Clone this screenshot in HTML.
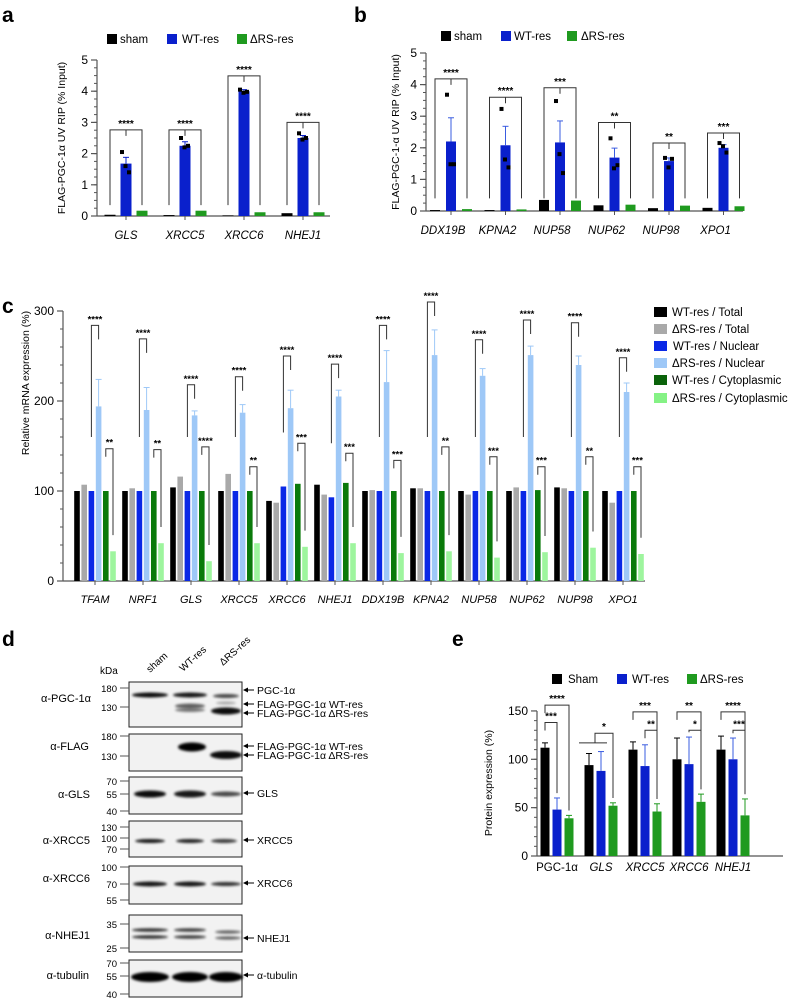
<!DOCTYPE html>
<html><head><meta charset="utf-8"><style>
body{margin:0;background:#fff}
svg{display:block;font-family:"Liberation Sans",sans-serif}
</style></head><body>
<svg id="fig" width="800" height="999" viewBox="0 0 800 999" xmlns="http://www.w3.org/2000/svg">
<defs>
<filter id="blur" x="-20%" y="-100%" width="140%" height="300%"><feGaussianBlur stdDeviation="1.4"/></filter>
</defs>
<g font-weight="bold" font-size="21" fill="#000">
<text x="2" y="22">a</text>
<text x="354" y="22">b</text>
<text x="2" y="313">c</text>
<text x="2" y="646">d</text>
<text x="452" y="646">e</text>
</g>

<g font-size="10">
<text x="100" y="674">kDa</text>
<text transform="translate(150,673) rotate(-42)" font-size="10">sham</text>
<text transform="translate(183,672) rotate(-42)" font-size="10">WT-res</text>
<text transform="translate(223,666) rotate(-42)" font-size="10">ΔRS-res</text>
<g font-size="11" text-anchor="end">
<text x="91" y="702">α-PGC-1α</text>
<text x="89" y="750">α-FLAG</text>
<text x="90" y="798">α-GLS</text>
<text x="90" y="844">α-XRCC5</text>
<text x="90" y="882">α-XRCC6</text>
<text x="90" y="939">α-NHEJ1</text>
<text x="89" y="979">α-tubulin</text>
</g>
<g id="blot"></g>
</g>

<g font-size="11.5">
<rect x="654" y="307" width="13" height="10" fill="#000"/><text x="672" y="316">WT-res / Total</text>
<rect x="654" y="324" width="13" height="10" fill="#a9a9a9"/><text x="672" y="333">ΔRS-res / Total</text>
<rect x="654" y="341" width="13" height="10" fill="#0a28e6"/><text x="673" y="350">WT-res / Nuclear</text>
<rect x="654" y="358" width="13" height="10" fill="#9ec8f7"/><text x="672" y="367">ΔRS-res / Nuclear</text>
<rect x="654" y="375" width="13" height="10" fill="#0a620a"/><text x="672" y="384">WT-res / Cytoplasmic</text>
<rect x="654" y="393" width="13" height="10" fill="#85f285"/><text x="672" y="402">ΔRS-res / Cytoplasmic</text>
</g>
<g id="charts"></g>
</svg>
<script>
// ===== Panel a data =====
const aGenes=['GLS','XRCC5','XRCC6','NHEJ1'];
const aSham=[0.04,0.03,0.02,0.09];
const aWT=[1.68,2.25,4.0,2.5];
const aDRS=[0.17,0.17,0.12,0.12];
const aErrWT=[0.2,0.13,0.05,0.08];
const aPtsWT=[[2.05,1.6,1.4],[2.5,2.2,2.25],[4.05,3.95,3.98],[2.65,2.45,2.5]];
const aSigY=[2.76,2.76,4.49,3.0];
const aSig=['****','****','****','****'];
const aTicks=[0,1,2,3,4,5];
// ===== Panel b data =====
const bGenes=['DDX19B','KPNA2','NUP58','NUP62','NUP98','XPO1'];
const bSham=[0.03,0.03,0.35,0.18,0.09,0.1];
const bWT=[2.2,2.08,2.17,1.69,1.58,2.0];
const bDRS=[0.06,0.05,0.33,0.2,0.17,0.15];
const bErrWT=[0.75,0.6,0.68,0.3,0.1,0.1];
const bPtsWT=[[3.68,1.48,1.48],[3.23,1.63,1.38],[3.48,1.8,1.2],[2.3,1.35,1.45],[1.68,1.38,1.65],[2.15,2.05,1.85]];
const bSigY=[4.18,3.6,3.9,2.8,2.15,2.47];
const bSig=['****','****','***','**','**','***'];
const bTicks=[0,1,2,3,4,5];
// ===== Panel c data =====
const cGenes=['TFAM','NRF1','GLS','XRCC5','XRCC6','NHEJ1','DDX19B','KPNA2','NUP58','NUP62','NUP98','XPO1'];
const cWTTotal=[100,100,104,100,89,107,100,103,100,100,104,100];
const cDRSTotal=[107,103,116,119,87,96,101,103,96,104,103,87];
const cWTNuc=[100,100,100,100,105,93,100,100,100,100,100,100];
const cDRSNuc=[194,190,184,187,192,205,221,251,228,251,240,210];
const cWTCyto=[100,100,100,100,108,109,100,100,100,101,100,100];
const cDRSCyto=[33,42,22,42,38,42,31,33,26,32,37,30];
const cErrDRSNuc=[30,25,5,9,20,7,35,28,8,10,10,10];
const cSig1Y=[284,269,218,227,250,241,284,310,268,290,287,248];
const cSig1=['****','****','****','****','****','****','****','****','****','****','****','****'];
const cSig2Y=[147,146,149,127,153,142,134,149,138,127,138,127];
const cSig2=['**','**','****','**','***','***','***','**','***','***','**','***'];
const cTicks=[0,100,200,300];
// ===== Panel e data =====
const eGenes=['PGC-1α','GLS','XRCC5','XRCC6','NHEJ1'];
const eSham=[112,94,110,100,110];
const eWT=[48,88,93,95,100];
const eDRS=[39,52,46,56,42];
const eErrSham=[5,12,8,22,14];
const eErrWT=[12,20,22,28,22];
const eErrDRS=[3,3,8,8,17];
const eTicks=[0,50,100,150];
// brackets: [group, fromBar, toBar, yValue, label]
const eBrackets=[[0,0,2,156,'****'],[0,0,1,138,'***'],[1,0.5,2,127,'*'],[2,0,2,149,'***'],[2,1,2,130,'**'],[3,0,2,149,'**'],[3,1,2,130,'*'],[4,0,2,149,'****'],[4,1,2,130,'***']];

const NS='http://www.w3.org/2000/svg';
const root=document.getElementById('charts');
function mk(tag,attrs,parent){const e=document.createElementNS(NS,tag);for(const k in attrs)e.setAttribute(k,attrs[k]);(parent||root).appendChild(e);return e;}
function txt(x,y,s,attrs,parent){const t=mk('text',Object.assign({x:x,y:y},attrs||{}),parent);t.textContent=s;return t;}

function axis(g,x0,xEnd,yf,ticks,minorStep,fs){
  const ymin=yf(ticks[0]),ymax=yf(ticks[ticks.length-1]);
  mk('line',{x1:x0,y1:ymin,x2:x0,y2:ymax,stroke:'#555','stroke-width':1.2},g);
  mk('line',{x1:x0,y1:ymin,x2:xEnd,y2:ymin,stroke:'#555','stroke-width':1.2},g);
  for(let v=ticks[0];v<=ticks[ticks.length-1]+1e-9;v+=minorStep){
    mk('line',{x1:x0-3,y1:yf(v),x2:x0,y2:yf(v),stroke:'#555','stroke-width':1},g);
  }
  ticks.forEach(v=>{
    mk('line',{x1:x0-6,y1:yf(v),x2:x0,y2:yf(v),stroke:'#555','stroke-width':1.2},g);
    const t=txt(x0-9,yf(v)+4,String(v),{'font-size':fs,'text-anchor':'end'},g);
    
    
  });
}
function bar(g,cx,w,yf,v,fill){
  const r=mk('rect',{x:cx-w/2,y:yf(v),width:w,height:yf(0)-yf(v),fill:fill},g);
  
  
  return r;
}
function err(g,cx,yf,v,e,col){
  mk('line',{x1:cx,y1:yf(v),x2:cx,y2:yf(v+e),stroke:col,'stroke-width':1},g);
  mk('line',{x1:cx-3,y1:yf(v+e),x2:cx+3,y2:yf(v+e),stroke:col,'stroke-width':1},g);
}
function bracket(g,x1,x2,yTop,y1Bot,y2Bot,label,fs){
  mk('polyline',{points:`${x1},${y1Bot} ${x1},${yTop} ${x2},${yTop} ${x2},${y2Bot}`,fill:'none',stroke:'#333','stroke-width':1},g);
  txt((x1+x2)/2,yTop-3,label,{'font-size':fs,'text-anchor':'middle','font-weight':'bold'},g);
}
function legend(g,items,y,fs){
  items.forEach(it=>{
    const r=mk('rect',{x:it[0],y:y-5,width:10,height:10,fill:it[2]},g);
    
    
    const t=txt(it[1],y+4,it[3],{'font-size':fs},g);
    
    
  });
}

// ===== Panel a =====
(function(){
  const g=mk('g',{});
  
  
  const yf=v=>216-v*31.2, xg=i=>126+i*59;
  axis(g,97,330,yf,aTicks,0.25,12);
  legend(g,[[107,120,'#000','sham'],[167,182,'#0a20cc','WT-res'],[237,250,'#1f9a1f','ΔRS-res']],39,11.5);
  aGenes.forEach((n,i)=>{
    const c=xg(i);
    bar(g,c-16,11,yf,aSham[i],'#000');
    bar(g,c,11,yf,aWT[i],'#0a20cc');
    err(g,c,yf,aWT[i],aErrWT[i],'#0a20cc');
    bar(g,c+16,11,yf,aDRS[i],'#1f9a1f');
    aPtsWT[i].forEach((p,k)=>mk('rect',{x:c-6+k*3.5,y:yf(p)-2,width:4,height:4,fill:'#000'},g));
    bracket(g,c-16,c+16,yf(aSigY[i]),yf(0.35),yf(0.35),aSig[i],10);
    mk('line',{x1:c,y1:yf(aSigY[i]),x2:c,y2:yf(aSigY[i])+6,stroke:'#333'},g);
    mk('line',{x1:c,y1:yf(0),x2:c,y2:yf(0)+4,stroke:'#555'},g);
    const t=txt(c,239,n,{'font-size':11.5,'font-style':'italic','text-anchor':'middle'},g);
    
    
  });
  const yl=txt(0,0,'FLAG-PGC-1α UV RIP (% Input)',{'font-size':10.5,'text-anchor':'middle',transform:'translate(65,138) rotate(-90)'},g);
  
  
})();

// ===== Panel b =====
(function(){
  const g=mk('g',{});
  
  
  const yf=v=>211-v*31.6, xg=i=>451+i*54.5;
  axis(g,426,743,yf,bTicks,0.25,12);
  legend(g,[[441,454,'#000','sham'],[501,514,'#0a20cc','WT-res'],[567,581,'#1f9a1f','ΔRS-res']],36,11.5);
  bGenes.forEach((n,i)=>{
    const c=xg(i);
    bar(g,c-16,10,yf,bSham[i],'#000');
    bar(g,c,10,yf,bWT[i],'#0a20cc');
    err(g,c,yf,bWT[i],bErrWT[i],'#3a5ce0');
    bar(g,c+16,10,yf,bDRS[i],'#1f9a1f');
    bPtsWT[i].forEach((p,k)=>mk('rect',{x:c-6+k*3.5,y:yf(p)-2,width:4,height:4,fill:'#000'},g));
    bracket(g,c-16,c+16,yf(bSigY[i]),yf(0.4),yf(0.4),bSig[i],10);
    mk('line',{x1:c,y1:yf(bSigY[i]),x2:c,y2:yf(bSigY[i])+6,stroke:'#333'},g);
    mk('line',{x1:c,y1:yf(0),x2:c,y2:yf(0)+4,stroke:'#555'},g);
    const t=txt(c-8,234,n,{'font-size':11.5,'font-style':'italic','text-anchor':'middle'},g);
    
    
  });
  const yl=txt(0,0,'FLAG-PGC-1-α UV RIP (% Input)',{'font-size':10.5,'text-anchor':'middle',transform:'translate(399,132) rotate(-90)'},g);
  
  
})();

// ===== Panel c =====
(function(){
  const g=mk('g',{});
  
  
  const yf=v=>581-v*0.9, xg=i=>77+i*48;
  axis(g,63,645,yf,cTicks,20,12);
  const series=[cWTTotal,cDRSTotal,cWTNuc,cDRSNuc,cWTCyto,cDRSCyto];
  const cols=['#000','#a9a9a9','#0a28e6','#9ec8f7','#0a7a0a','#9ef59e'];
  cGenes.forEach((n,i)=>{
    const b=xg(i);
    series.forEach((s,k)=>bar(g,b+k*7.2,5.6,yf,s[i],cols[k]));
    err(g,b+21.6,yf,cDRSNuc[i],cErrDRSNuc[i],'#9ec8f7');
    bracket(g,b+14.4,b+21.6,yf(cSig1Y[i]),yf(cWTNuc[i]+60),yf(cSig1Y[i])+14,cSig1[i],9.5);
    bracket(g,b+28.8,b+36,yf(cSig2Y[i]),yf(cSig2Y[i])+8,yf(cDRSCyto[i]+18),cSig2[i],9.5);
    mk('line',{x1:b+18,y1:yf(0),x2:b+18,y2:yf(0)+4,stroke:'#555'},g);
    const t=txt(b+18,603,n,{'font-size':11,'font-style':'italic','text-anchor':'middle'},g);
    
    
  });
  const yl=txt(0,0,'Relative mRNA expression (%)',{'font-size':10.5,'text-anchor':'middle',transform:'translate(29,383) rotate(-90)'},g);
  
  
})();

// ===== Panel e =====
(function(){
  const g=mk('g',{});
  
  
  const yf=v=>856-v*0.967, xg=i=>545+i*44;
  axis(g,537,783,yf,eTicks,10,12);
  legend(g,[[552,568,'#000','Sham'],[617,632,'#0a20cc','WT-res'],[687,700,'#1f9a1f','ΔRS-res']],679,11.5);
  const tops=[eSham.map((v,i)=>v+eErrSham[i]),eWT.map((v,i)=>v+eErrWT[i]),eDRS.map((v,i)=>v+eErrDRS[i])];
  eGenes.forEach((n,i)=>{
    const b=xg(i);
    bar(g,b,9,yf,eSham[i],'#000'); err(g,b,yf,eSham[i],eErrSham[i],'#000');
    bar(g,b+12,9,yf,eWT[i],'#0a20cc'); err(g,b+12,yf,eWT[i],eErrWT[i],'#3a5ce0');
    bar(g,b+24,9,yf,eDRS[i],'#1f9a1f'); err(g,b+24,yf,eDRS[i],eErrDRS[i],'#1f9a1f');
    const t=txt(b+12,871,n,{'font-size':11.5,'font-style':i===0?'normal':'italic','text-anchor':'middle'},g);
    
    
  });
  eBrackets.forEach(br=>{
    const b=xg(br[0]);
    const x1=b+br[1]*12, x2=b+br[2]*12;
    const leftBot = br[1]===0.5 ? yf(117) : Math.min(yf(tops[br[1]][br[0]]+5), yf(br[3])+8);
    const rightBot = yf(tops[br[2]][br[0]]+5);
    bracket(g,x1,x2,yf(br[3]),leftBot,rightBot,br[4],10);
    if(br[1]===0.5) mk('line',{x1:b-10,y1:yf(117),x2:b+18,y2:yf(117),stroke:'#333'},g);
  });
  const yl=txt(0,0,'Protein expression (%)',{'font-size':10.5,'text-anchor':'middle',transform:'translate(492,783) rotate(-90)'},g);
  
  
})();

// ===== Panel d blots =====
(function(){
  const g=document.getElementById('blot');
  const boxes=[[682,727],[734,771],[777,814],[821,857],[866,904],[915,952],[960,997]];
  const markers=[[[180,688],[130,707]],[[180,736],[130,756]],[[70,781],[55,794],[40,811]],[[130,827],[100,838],[70,849]],[[100,867],[70,884],[55,900]],[[35,924],[25,948]],[[70,963],[55,976],[40,994]]];
  boxes.forEach((b,i)=>{
    mk('rect',{x:129,y:b[0],width:113,height:b[1]-b[0],fill:'#f2f2f2',stroke:'#222','stroke-width':1},g);
    markers[i].forEach(m=>{
      mk('line',{x1:120,y1:m[1],x2:129,y2:m[1],stroke:'#555'},g);
      txt(117,m[1]+4,String(m[0]),{'font-size':9.5,'text-anchor':'end'},g);
    });
  });
  const bands=[[150,695,18,2.5,0.95],[190,695,17,2.5,0.9],[226,696,13,2,0.7],[190,706,15,2.5,0.6],[190,710,15,2,0.5],[226,711,15,3.5,0.95],[226,703,10,1.5,0.3],
    [192,747,14,4.5,1],[226,755,16,4,0.95],
    [150,794,16,3.5,0.95],[190,794,16,3.5,0.9],[226,794,15,2.5,0.7],
    [150,841,15,2,0.9],[190,841,14,2,0.85],[224,841,13,2,0.75],
    [150,884,17,2.5,0.9],[190,884,16,2.5,0.9],[226,884,15,2,0.8],
    [150,930,18,1.8,0.8],[150,937,18,1.8,0.8],[190,930,16,1.8,0.75],[190,937,16,1.8,0.75],[228,932,13,1.6,0.6],[228,938,13,1.6,0.6],
    [150,977,19,5,1],[190,977,18,5,1],[226,977,17,5,1]];
  bands.forEach(b=>{
    const e=mk('ellipse',{cx:b[0],cy:b[1],rx:b[2],ry:b[3],fill:'#000',opacity:b[4],filter:'url(#blur)'},g);
    
    
  });
  const labels=[[690,'PGC-1α'],[704,'FLAG-PGC-1α WT-res'],[713,'FLAG-PGC-1α ΔRS-res'],[746,'FLAG-PGC-1α WT-res'],[755,'FLAG-PGC-1α ΔRS-res'],[793,'GLS'],[840,'XRCC5'],[883,'XRCC6'],[938,'NHEJ1'],[975,'α-tubulin']];
  labels.forEach(l=>{
    mk('line',{x1:244,y1:l[0],x2:254,y2:l[0],stroke:'#000'},g);
    mk('polygon',{points:`243,${l[0]} 248,${l[0]-2.5} 248,${l[0]+2.5}`,fill:'#000'},g);
    const t=txt(257,l[0]+4,l[1],{'font-size':10.5},g);
    
    
  });
})();
</script>
</body></html>
